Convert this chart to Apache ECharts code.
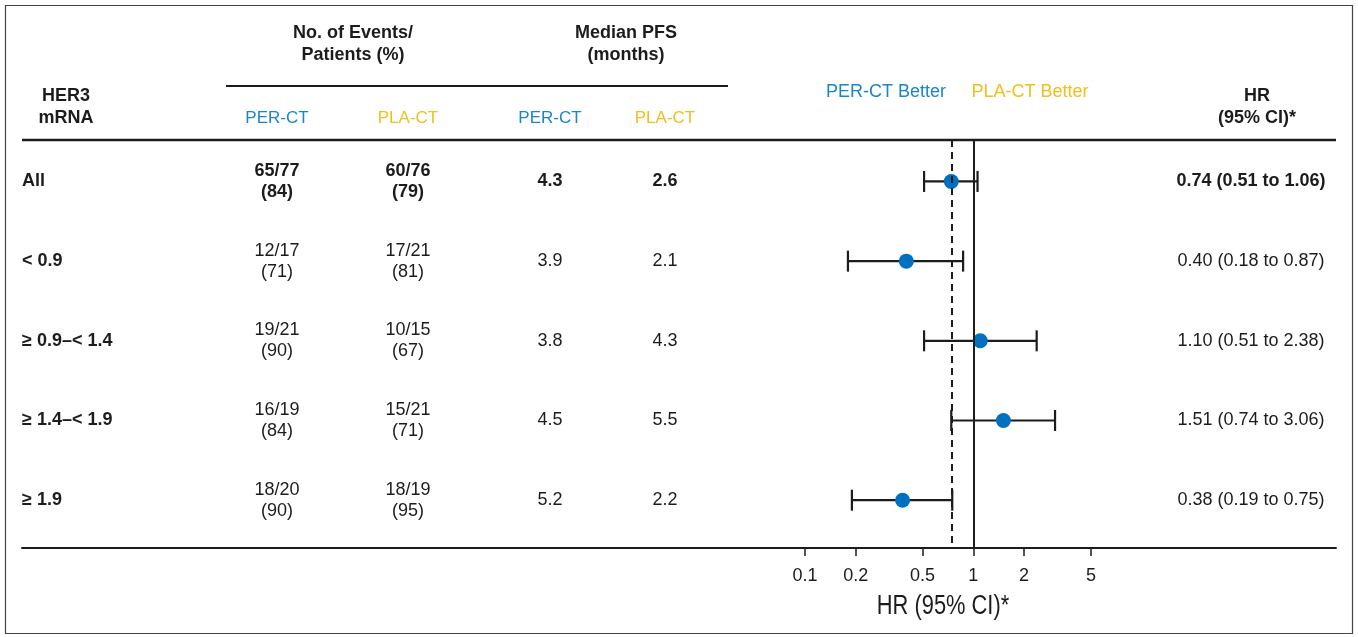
<!DOCTYPE html>
<html>
<head>
<meta charset="utf-8">
<script src="https://cdn.jsdelivr.net/npm/echarts@6/dist/echarts.min.js"></script>
<style>
html,body{margin:0;padding:0;background:#fff;}
#chart{width:1358px;height:637px;}
</style>
</head>
<body>
<div id="chart"></div>
<script>
// ---- data ----
const rowLabels = ['All', '< 0.9', '\u2265 0.9\u2013< 1.4', '\u2265 1.4\u2013< 1.9', '\u2265 1.9'];
const perEvents = ['65/77', '12/17', '19/21', '16/19', '18/20'];
const perPct = [84, 71, 90, 84, 90];
const plaEvents = ['60/76', '17/21', '10/15', '15/21', '18/19'];
const plaPct = [79, 81, 67, 71, 95];
const perMedian = [4.3, 3.9, 3.8, 4.5, 5.2];
const plaMedian = [2.6, 2.1, 4.3, 5.5, 2.2];
const hr = [0.74, 0.40, 1.10, 1.51, 0.38];
const ciLow = [0.51, 0.18, 0.51, 0.74, 0.19];
const ciHigh = [1.06, 0.87, 2.38, 3.06, 0.75];
const tickValues = [0.1, 0.2, 0.5, 1, 2, 5];

// ---- layout / style ----
const FONT = "'Liberation Sans', Arial, sans-serif";
const INK = '#1c1c1c';
const BLUE = '#1a86c8';
const YELLOW = '#f0bf1a';
const DOT = '#0070c0';
const colX = { label: 22, perEv: 277, plaEv: 408, perMed: 550, plaMed: 665, hr: 1251 };

function txt(text, x, y, opt) {
  opt = opt || {};
  return {
    type: 'text', x: x, y: y, silent: true,
    scaleX: opt.scaleX || 1,
    style: {
      text: text,
      fill: opt.fill || INK,
      fontSize: opt.size || 18,
      fontWeight: opt.bold ? 'bold' : 'normal',
      fontFamily: FONT,
      align: 'center', textAlign: 'center',
      verticalAlign: 'middle', textVerticalAlign: 'middle',
      lineHeight: opt.lineHeight || 21
    }
  };
}

const chart = echarts.init(document.getElementById('chart'), null, { renderer: 'canvas' });

const option = {
  backgroundColor: '#fff',
  animation: false,
  grid: { left: 22, right: 22, top: 140, bottom: 89, containLabel: false, outerBoundsMode: 'none' },
  xAxis: {
    type: 'log',
    logBase: 10,
    min: Math.pow(10, -5.652),
    max: Math.pow(10, 2.155),
    axisLine: { show: true, onZero: false, lineStyle: { color: INK, width: 2 } },
    axisTick: { show: true, customValues: tickValues, length: 8, inside: false, lineStyle: { color: INK, width: 1.5 } },
    axisLabel: {
      show: true, customValues: tickValues, margin: 19,
      color: INK, fontSize: 18, fontFamily: FONT,
      formatter: function (v) { return String(+Number(v).toPrecision(3)); }
    },
    splitLine: { show: false },
    minorTick: { show: false }, minorSplitLine: { show: false }
  },
  yAxis: {
    type: 'value', inverse: true, min: -0.52, max: 4.6, show: false
  },
  graphic: [
    { type: 'rect', shape: { x: 5.5, y: 5.5, width: 1347, height: 628 }, style: { fill: 'none', stroke: '#444', lineWidth: 1.2 }, silent: true },
    { type: 'line', shape: { x1: 226, y1: 86, x2: 728, y2: 86 }, style: { stroke: INK, lineWidth: 2 }, silent: true },
    { type: 'line', shape: { x1: 22, y1: 140, x2: 1336, y2: 140 }, style: { stroke: INK, lineWidth: 2.5 }, silent: true },
    txt('No. of Events/\nPatients (%)', 353, 44, { bold: true, lineHeight: 22 }),
    txt('Median PFS\n(months)', 626, 44, { bold: true, lineHeight: 22 }),
    txt('HER3\nmRNA', 66, 107, { bold: true, lineHeight: 22 }),
    txt('HR\n(95% CI)*', 1257, 107, { bold: true, lineHeight: 22 }),
    txt('PER-CT', colX.perEv, 118, { fill: BLUE, size: 17 }),
    txt('PLA-CT', colX.plaEv, 118, { fill: YELLOW, size: 17 }),
    txt('PER-CT', colX.perMed, 118, { fill: BLUE, size: 17 }),
    txt('PLA-CT', colX.plaMed, 118, { fill: YELLOW, size: 17 }),
    txt('PER-CT Better', 886, 92, { fill: BLUE, size: 18 }),
    txt('PLA-CT Better', 1030, 92, { fill: YELLOW, size: 18 }),
    txt('HR (95% CI)*', 943, 607, { size: 27, scaleX: 0.81 })
  ],
  series: [
    {
      // table text columns, positioned on rows through the y axis
      type: 'custom',
      name: 'table',
      clip: false,
      silent: true,
      z: 1,
      data: rowLabels.map(function (_, i) { return [1, i]; }),
      encode: { x: 0, y: 1 },
      renderItem: function (params, api) {
        const i = params.dataIndex;
        const y = api.coord([1, api.value(1)])[1];
        const b = i === 0;
        function t(text, x, bold, align) {
          return {
            type: 'text', x: x, y: y,
            style: {
              text: text, fill: INK, fontSize: 18, fontFamily: FONT,
              fontWeight: bold ? 'bold' : 'normal',
              align: align || 'center', verticalAlign: 'middle', lineHeight: 21
            }
          };
        }
        return {
          type: 'group',
          children: [
            t(rowLabels[i], colX.label, true, 'left'),
            t(perEvents[i] + '\n(' + perPct[i] + ')', colX.perEv, b),
            t(plaEvents[i] + '\n(' + plaPct[i] + ')', colX.plaEv, b),
            t(perMedian[i].toFixed(1), colX.perMed, b),
            t(plaMedian[i].toFixed(1), colX.plaMed, b),
            t(hr[i].toFixed(2) + ' (' + ciLow[i].toFixed(2) + ' to ' + ciHigh[i].toFixed(2) + ')', colX.hr, b)
          ]
        };
      },
      markLine: {
        silent: true,
        symbol: 'none',
        label: { show: false },
        data: [
          { xAxis: 1, lineStyle: { color: INK, width: 2, type: 'solid' } },
          { xAxis: hr[0], lineStyle: { color: INK, width: 2, type: [7, 5] } }
        ]
      }
    },
    {
      type: 'custom',
      name: 'ci',
      clip: false,
      silent: true,
      z: 2,
      data: hr.map(function (_, i) { return [ciLow[i], ciHigh[i], i]; }),
      encode: { x: [0, 1], y: 2 },
      renderItem: function (params, api) {
        const p1 = api.coord([api.value(0), api.value(2)]);
        const p2 = api.coord([api.value(1), api.value(2)]);
        const h = 10.5;
        const st = { stroke: INK, lineWidth: 2.2, fill: 'none' };
        return {
          type: 'group',
          children: [
            { type: 'line', shape: { x1: p1[0], y1: p1[1], x2: p2[0], y2: p2[1] }, style: st },
            { type: 'line', shape: { x1: p1[0], y1: p1[1] - h, x2: p1[0], y2: p1[1] + h }, style: st },
            { type: 'line', shape: { x1: p2[0], y1: p2[1] - h, x2: p2[0], y2: p2[1] + h }, style: st }
          ]
        };
      }
    },
    {
      type: 'scatter',
      name: 'HR',
      z: 3,
      silent: true,
      symbol: 'circle',
      symbolSize: 15,
      itemStyle: { color: DOT, opacity: 1 },
      data: hr.map(function (v, i) { return [v, i]; })
    }
  ]
};

chart.setOption(option);
</script>
</body>
</html>
